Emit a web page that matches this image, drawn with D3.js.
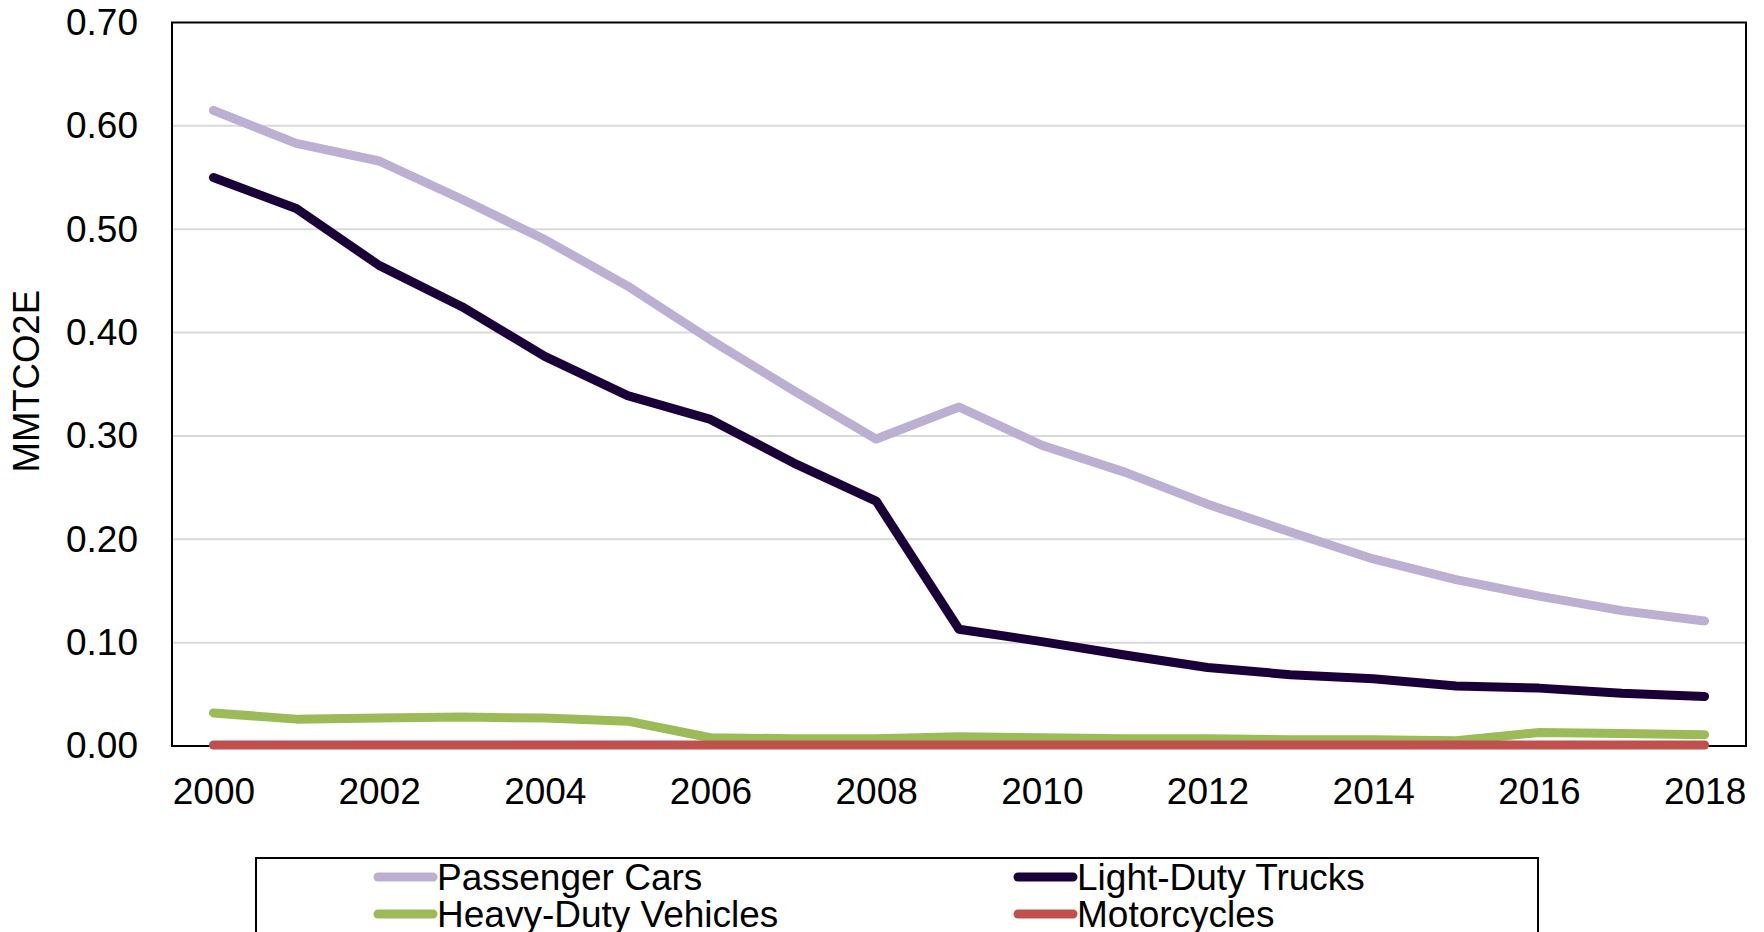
<!DOCTYPE html>
<html>
<head>
<meta charset="utf-8">
<script src="https://cdn.jsdelivr.net/npm/d3@7/dist/d3.min.js"></script>
<style>
  html, body { margin: 0; padding: 0; background: #fff; }
  svg { display: block; font-family: "Liberation Sans", Arial, sans-serif; }
</style>
</head>
<body>
<svg id="chart" width="1764" height="932"></svg>
<script>
const years = [2000,2001,2002,2003,2004,2005,2006,2007,2008,2009,2010,2011,2012,2013,2014,2015,2016,2017,2018];
const passengerCars = [0.615,0.583,0.566,0.529,0.490,0.445,0.393,0.344,0.297,0.328,0.291,0.265,0.234,0.207,0.181,0.161,0.145,0.131,0.121];
const lightDutyTrucks = [0.550,0.520,0.465,0.425,0.377,0.339,0.316,0.274,0.237,0.113,0.101,0.088,0.076,0.069,0.065,0.058,0.056,0.051,0.048];
const heavyDutyVehicles = [0.032,0.026,0.027,0.028,0.027,0.024,0.008,0.007,0.007,0.009,0.008,0.007,0.007,0.006,0.006,0.005,0.013,0.012,0.011];
const motorcycles = [0.001,0.001,0.001,0.001,0.001,0.001,0.001,0.001,0.001,0.001,0.001,0.001,0.001,0.001,0.001,0.001,0.001,0.001,0.001];
const yTicks = [0,0.1,0.2,0.3,0.4,0.5,0.6,0.7];
const xTickLabels = [2000,2002,2004,2006,2008,2010,2012,2014,2016,2018];
const seriesNames = ["Passenger Cars","Light-Duty Trucks","Heavy-Duty Vehicles","Motorcycles"];
const seriesColors = ["#BCAFD2","#1A0038","#9BBB59","#C0504D"];
const yTitle = "MMTCO2E";

const series = [
  {name: seriesNames[0], values: passengerCars, color: seriesColors[0]},
  {name: seriesNames[1], values: lightDutyTrucks, color: seriesColors[1]},
  {name: seriesNames[2], values: heavyDutyVehicles, color: seriesColors[2]},
  {name: seriesNames[3], values: motorcycles, color: seriesColors[3]}
];

const svg = d3.select("#chart");
const L = 172, R = 1746, T = 22.5, B = 746;
const FS = 37;

const x = d3.scalePoint().domain(years).range([L, R]).padding(0.5);
const y = d3.scaleLinear().domain([0, 0.7]).range([B, T]);

// gridlines
svg.append("g").selectAll("line").data(yTicks.filter(d => d > 0 && d < 0.7)).join("line")
  .attr("x1", L).attr("x2", R)
  .attr("y1", d => y(d)).attr("y2", d => y(d))
  .attr("stroke", "#D9D9D9").attr("stroke-width", 2);

// plot border
svg.append("rect")
  .attr("x", L).attr("y", T).attr("width", R - L).attr("height", B - T)
  .attr("fill", "none").attr("stroke", "#000").attr("stroke-width", 2);

// y axis labels
const yAxis = d3.axisLeft(y).tickValues(yTicks).tickFormat(d3.format(".2f")).tickSize(0).tickPadding(34);
const gy = svg.append("g").attr("transform", `translate(${L},0)`).call(yAxis);
gy.select(".domain").remove();
gy.selectAll("text").attr("font-size", FS).attr("fill", "#000")
  .attr("font-family", "'Liberation Sans', Arial, sans-serif");

// x axis labels
const xAxis = d3.axisBottom(x).tickValues(xTickLabels).tickSize(0).tickPadding(32);
const gx = svg.append("g").attr("transform", `translate(0,${B})`).call(xAxis);
gx.select(".domain").remove();
gx.selectAll("text").attr("font-size", FS).attr("fill", "#000")
  .attr("font-family", "'Liberation Sans', Arial, sans-serif");

// y title
svg.append("text")
  .attr("transform", `translate(39,${(T + B) / 2 - 3}) rotate(-90)`)
  .attr("text-anchor", "middle")
  .attr("font-size", 36.5)
  .attr("fill", "#000")
  .text(yTitle);

// lines
const line = d3.line().x((d, i) => x(years[i])).y(d => y(d));
const drawOrder = [0, 1, 2, 3];
svg.append("g").selectAll("path").data(drawOrder.map(i => series[i])).join("path")
  .attr("d", d => line(d.values))
  .attr("fill", "none")
  .attr("stroke", d => d.color)
  .attr("stroke-width", 9)
  .attr("stroke-linecap", "round")
  .attr("stroke-linejoin", "round");

// legend
const lg = svg.append("g");
lg.append("rect").attr("x", 256).attr("y", 858).attr("width", 1538 - 256).attr("height", 120)
  .attr("fill", "#fff").attr("stroke", "#000").attr("stroke-width", 2);
const legendPos = [
  {lx: 378, ty: 877}, {lx: 1018, ty: 877},
  {lx: 378, ty: 914}, {lx: 1018, ty: 914}
];
series.forEach((s, i) => {
  const p = legendPos[i];
  lg.append("line").attr("x1", p.lx).attr("x2", p.lx + 55)
    .attr("y1", p.ty).attr("y2", p.ty)
    .attr("stroke", s.color).attr("stroke-width", 9).attr("stroke-linecap", "round");
  lg.append("text").attr("x", p.lx + 59).attr("y", p.ty).attr("dy", "0.35em")
    .attr("font-size", FS).attr("fill", "#000").text(s.name);
});
</script>
</body>
</html>
